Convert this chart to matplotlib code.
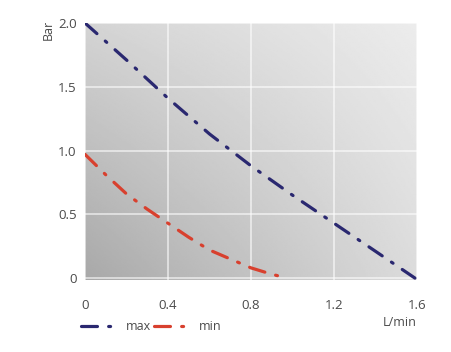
import numpy as np
import matplotlib
matplotlib.use("Agg")
import matplotlib.pyplot as plt

plt.rcParams['font.family'] = ['Open Sans', 'DejaVu Sans']

# flow (L/min) vs pressure (Bar)
max_flow = [0, 0.2, 0.4, 0.6, 0.8, 1.0, 1.2, 1.4, 1.59]
max_bar = [2.0, 1.71, 1.41, 1.13, 0.88, 0.65, 0.43, 0.21, 0.0]
min_flow = [0, 0.1, 0.2, 0.3, 0.4, 0.5, 0.6, 0.7, 0.8, 0.9, 0.975]
min_bar = [0.97, 0.81, 0.66, 0.54, 0.43, 0.32, 0.22, 0.15, 0.08, 0.03, 0.0]

x_ticks = [0, 0.4, 0.8, 1.2, 1.6]
x_labels = ['0', '0.4', '0.8', '1.2', '1.6']
y_ticks = [0, 0.5, 1.0, 1.5, 2.0]
y_labels = ['0', '0.5', '1.0', '1.5', '2.0']

fig = plt.figure(figsize=(4.51, 3.52), dpi=100)
ax = fig.add_axes([85 / 451, 72 / 352, 332 / 451, 257 / 352])

# diagonal grey gradient background
xmin, xmax, ymin, ymax = 0, 1.6, -0.015, 2.0
u, v = np.meshgrid(np.linspace(0, 1, 200), np.linspace(0, 1, 200))
shade = 0.66 + 0.20 * u + 0.17 * v - 0.105 * u * v
ax.imshow(shade, cmap='gray', vmin=0, vmax=1, origin='lower',
          extent=[xmin, xmax, ymin, ymax], aspect='auto', zorder=0,
          interpolation='bilinear')

ax.set_xlim(xmin, xmax)
ax.set_ylim(ymin, ymax)
for s in ax.spines.values():
    s.set_visible(False)

ax.set_xticks(x_ticks)
ax.set_xticklabels(x_labels)
ax.set_yticks(y_ticks)
ax.set_yticklabels(y_labels)
ax.tick_params(length=0, labelsize=9.5, labelcolor='#4a4a4a')
ax.tick_params(axis='x', pad=14)
ax.tick_params(axis='y', pad=6)
ax.grid(True, color='white', lw=1.2, alpha=0.65, zorder=1)
ax.set_axisbelow(False)

l1, = ax.plot(max_flow, max_bar, color='#2a2870', lw=2.3, zorder=3,
              label='max', dash_capstyle='round')
l1.set_dashes((5, 3.5, 0.6, 3.5))
l2, = ax.plot(min_flow, min_bar, color='#d8402e', lw=2.3, zorder=3,
              label='min', dash_capstyle='round')
l2.set_dashes((5, 3.5, 0.6, 3.5))

fig.text(48 / 451, 1 - 20 / 352, 'Bar', rotation=90, fontsize=9,
         color='#4a4a4a', ha='center', va='top')
fig.text(417 / 451, 1 - 322 / 352, 'L/min', fontsize=9,
         color='#4a4a4a', ha='right', va='center')

fig.legend(handles=[l1, l2], loc='center left',
           bbox_to_anchor=(70 / 451, 1 - 327 / 352), ncol=2, frameon=False,
           fontsize=9, handlelength=2.9, handletextpad=0.7,
           columnspacing=0.2, labelcolor='#4a4a4a')

fig.savefig('out.png', dpi=100)
